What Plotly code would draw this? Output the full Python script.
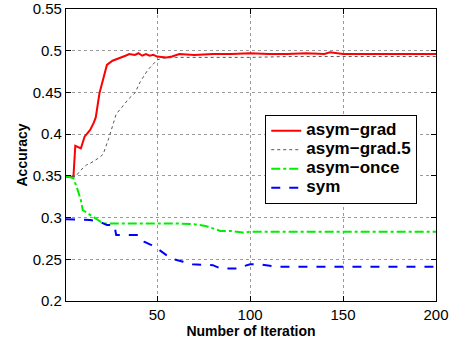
import plotly.graph_objects as go

# ---- data ----
grad_iter = [1, 5, 6, 9, 11, 14, 16, 17, 19, 21, 23, 26, 30, 33, 35, 38, 40, 42, 44, 46, 48, 50,
             55, 58, 62, 70, 80, 90, 100, 110, 120, 130, 140, 143, 150, 160, 170, 180, 190, 200]
grad_acc = [0.349, 0.349, 0.386, 0.383, 0.397, 0.405, 0.414, 0.42, 0.449, 0.465, 0.483, 0.488,
            0.491, 0.494, 0.496, 0.495, 0.497, 0.494, 0.496, 0.494, 0.495, 0.493,
            0.492, 0.493, 0.496, 0.495, 0.496, 0.496, 0.497, 0.496, 0.496, 0.497, 0.496, 0.498,
            0.496, 0.496, 0.496, 0.496, 0.496, 0.496]

grad5_iter = [1, 6, 9, 12, 14, 17, 19, 21, 24, 28, 32, 35, 38, 41, 45, 50, 53, 60, 80, 100, 120,
              150, 170, 200]
grad5_acc = [0.35, 0.349, 0.357, 0.363, 0.365, 0.369, 0.372, 0.376, 0.395, 0.424, 0.435, 0.443,
             0.449, 0.463, 0.477, 0.489, 0.491, 0.492, 0.492, 0.492, 0.493, 0.493, 0.493, 0.493]

once_iter = [1, 5, 7, 9, 10, 14, 17, 21, 25, 40, 60, 70, 76, 80, 84, 90, 96, 100, 120, 150, 200]
once_acc = [0.35, 0.347, 0.335, 0.321, 0.309, 0.303, 0.299, 0.293, 0.293, 0.293, 0.293, 0.292,
            0.29, 0.287, 0.284, 0.284, 0.282, 0.283, 0.283, 0.283, 0.283]

sym_iter = [1, 14, 19, 23, 27, 28, 40, 43, 47, 50, 55, 59, 64, 69, 80, 84, 94, 97, 100, 105,
            114, 150, 200]
sym_acc = [0.298, 0.297, 0.295, 0.291, 0.291, 0.279, 0.279, 0.271, 0.267, 0.263, 0.255, 0.25,
           0.247, 0.244, 0.243, 0.239, 0.239, 0.242, 0.244, 0.244, 0.241, 0.241, 0.241]

series_names = ["asym\u2212grad", "asym\u2212grad.5", "asym\u2212once", "sym"]

x_ticks = [50, 100, 150, 200]
y_ticks = [0.2, 0.25, 0.3, 0.35, 0.4, 0.45, 0.5, 0.55]
y_tick_labels = ["0.2", "0.25", "0.3", "0.35", "0.4", "0.45", "0.5", "0.55"]

FONT = "Liberation Sans, Arial, sans-serif"


def legend_label(name):
    return '<span style="font-size:17px"><b>' + name + '</b></span>'


fig = go.Figure()
fig.add_trace(go.Scatter(x=grad_iter, y=grad_acc, mode="lines", name=legend_label(series_names[0]),
                         line=dict(color="#ff0000", width=2)))
fig.add_trace(go.Scatter(x=grad5_iter, y=grad5_acc, mode="lines", name=legend_label(series_names[1]),
                         line=dict(color="#555555", width=1, dash="dot")))
fig.add_trace(go.Scatter(x=once_iter, y=once_acc, mode="lines", name=legend_label(series_names[2]),
                         line=dict(color="#00ee00", width=2, dash="dashdot")))
fig.add_trace(go.Scatter(x=sym_iter, y=sym_acc, mode="lines", name=legend_label(series_names[3]),
                         line=dict(color="#0000ff", width=2, dash="dash")))

axis_common = dict(
    automargin=False,
    showline=True, linecolor="black", linewidth=1.2, mirror="ticks",
    ticks="inside", ticklen=5, tickcolor="black",
    showgrid=True, gridcolor="#9a9a9a", griddash="dot", gridwidth=1,
    zeroline=False, tickfont=dict(family=FONT, size=15, color="black"),
)

fig.update_xaxes(range=[1, 200], tickvals=x_ticks, ticktext=[str(v) for v in x_ticks],
                 title=dict(text="<b>Number of Iteration</b>", standoff=2,
                            font=dict(family=FONT, size=14, color="black")),
                 **axis_common)
fig.update_yaxes(range=[0.2, 0.55], tickvals=y_ticks, ticktext=y_tick_labels,
                 title=dict(text="<b>Accuracy</b>", standoff=1,
                            font=dict(family=FONT, size=14, color="black")),
                 **axis_common)

fig.update_layout(
    width=461, height=340,
    margin=dict(l=66, r=25, t=9, b=39),
    paper_bgcolor="white", plot_bgcolor="white",
    showlegend=True,
    legend=dict(x=0.538, y=0.637, xanchor="left", yanchor="top",
                bgcolor="white", bordercolor="black", borderwidth=1.2,
                font=dict(family=FONT, size=12, color="black"),
                tracegroupgap=0, itemwidth=30),
    font=dict(family=FONT, color="black"),
)

fig.write_html("out.html", config={"displayModeBar": False},
               post_script="document.body.style.margin='0';")
